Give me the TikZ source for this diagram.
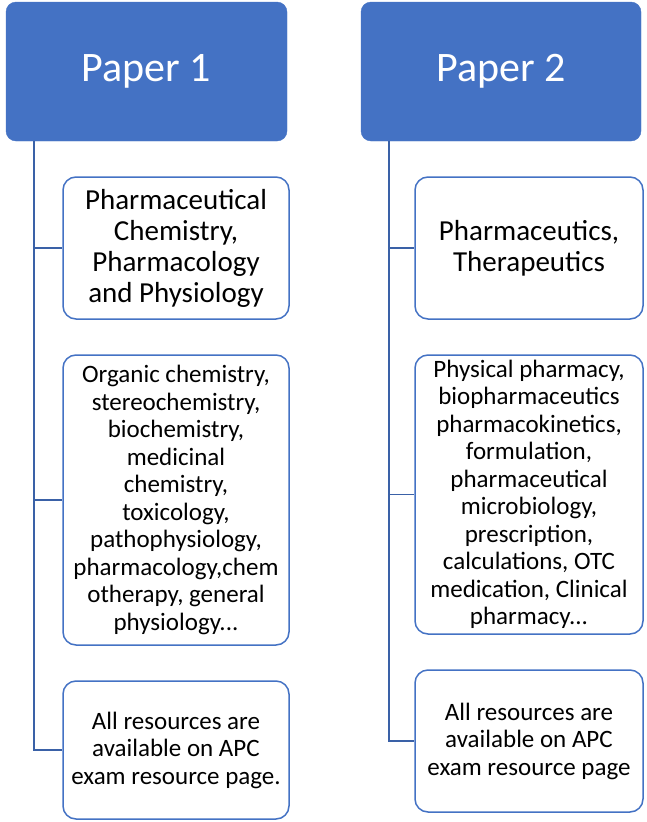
\documentclass[tikz,border=0pt]{standalone}
\usepackage{fontspec}
\setmainfont{Carlito}
\definecolor{paperblue}{HTML}{4472C4}
\begin{document}
\begin{tikzpicture}[x=1pt, y=-1pt,
  head/.style={rectangle, rounded corners=10pt, fill=paperblue, draw=paperblue, text=white,
    font=\fontsize{42}{50}\selectfont},
  topic/.style={rectangle, rounded corners=13pt, draw=paperblue, line width=1.5pt, fill=white,
    align=center, font=\fontsize{25}{27.5}\selectfont},
  big/.style={font=\fontsize{29}{31}\selectfont},
  link/.style={draw=paperblue!85!black, line width=1.6pt}]
\useasboundingbox (0,0) rectangle (647,822);
% Headers
\node[head, minimum width=281pt, minimum height=139pt] (P1) at (146.5,71.5) {Paper 1};
\node[head, minimum width=280pt, minimum height=139pt] (P2) at (501,71.5) {Paper 2};

% Paper 1 topics
\node[topic, big, minimum width=226pt, minimum height=142pt] (A1) at (176,248)
  {Pharmaceutical\\Chemistry,\\Pharmacology\\and Physiology};
\node[topic, minimum width=226pt, minimum height=290pt] (A2) at (176,500)
  {Organic chemistry,\\stereochemistry,\\biochemistry,\\medicinal\\chemistry,\\toxicology,\\pathophysiology,\\pharmacology,chem\\otherapy, general\\physiology...};
\node[topic, minimum width=226pt, minimum height=138pt] (A3) at (176,750)
  {All resources are\\available on APC\\exam resource page.};

% Paper 2 topics
\node[topic, big, minimum width=228pt, minimum height=142pt] (B1) at (529,248)
  {Pharmaceutics,\\Therapeutics};
\node[topic, minimum width=228pt, minimum height=279pt] (B2) at (529,494.5)
  {Physical pharmacy,\\biopharmaceutics\\pharmacokinetics,\\formulation,\\pharmaceutical\\microbiology,\\prescription,\\calculations, OTC\\medication, Clinical\\pharmacy...};
\node[topic, minimum width=228pt, minimum height=142pt] (B3) at (529,741)
  {All resources are\\available on APC\\exam resource page};

\coordinate (S1) at (34,0);
\coordinate (S2) at (389,0);

\draw[link] (S1 |- P1.south) |- (A3.west);
\draw[link] (S1 |- A1.west) -- (A1.west);
\draw[link] (S1 |- A2.west) -- (A2.west);
\draw[link] (S2 |- P2.south) |- (B3.west);
\draw[link] (S2 |- B1.west) -- (B1.west);
\draw[link] (S2 |- B2.west) -- (B2.west);
\end{tikzpicture}
\end{document}
